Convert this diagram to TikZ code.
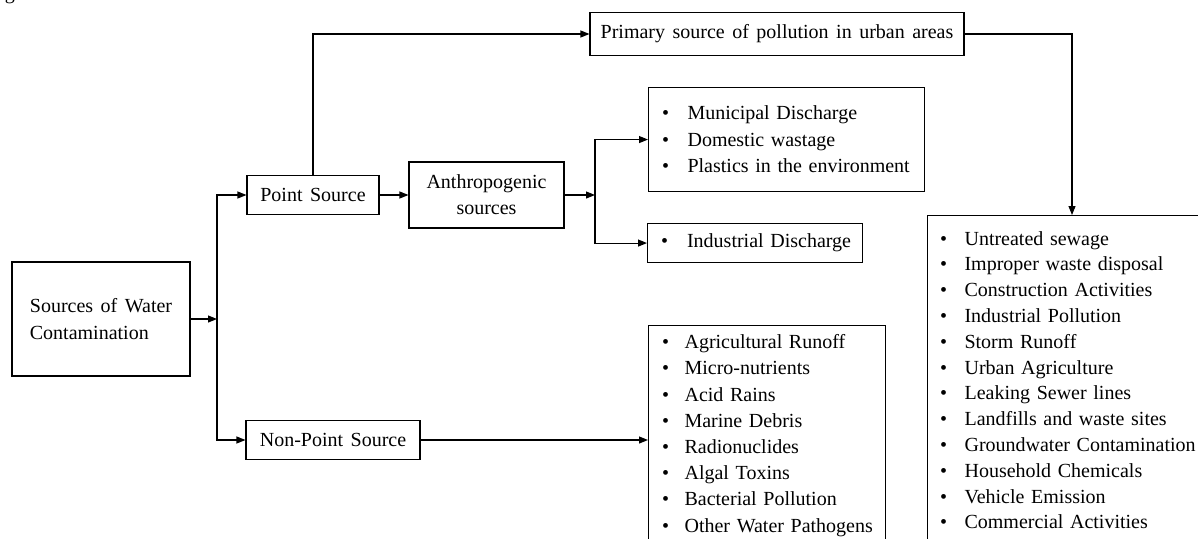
\documentclass[tikz,border=0pt]{standalone}
\usepackage{fontspec}
\setmainfont{Liberation Serif}
\usetikzlibrary{arrows.meta}
\newcommand\ff[1]{\fontsize{20}{#1}\selectfont\spaceskip=7.5pt plus 2pt minus 1pt\relax}
\newcommand\itm[2][16pt]{\mbox{\textbullet\hspace{#1}#2}}
\begin{document}
\begin{tikzpicture}[x=1pt,y=-1pt,
  every node/.style={font=\ff{26}},
  box/.style={draw, line width=1.1pt, inner sep=0pt},
  arr/.style={line width=1.1pt, -{Triangle[length=9pt,width=7pt]}},
  ln/.style={line width=1.1pt}]
\useasboundingbox (0,0) rectangle (1198,538);
% caption fragment cut by the page edge
\begin{scope}
\clip (0,0) rectangle (1198,538);
\node[anchor=base west, inner sep=0pt] (cap) at (-12,-1) {Figure 3.};
\end{scope}
% boxes
\node[box, minimum width=178, minimum height=114, align=left, font=\ff{26.7}] (src) at (101,319) {Sources of Water\\Contamination};
\node[box, minimum width=132, minimum height=39] (ps) at (313,195) {Point Source};
\node[box, minimum width=174, minimum height=39] (nps) at (333,440) {Non-Point Source};
\node[box, minimum width=155, minimum height=66, align=center, font=\ff{26.3}] (anth) at (486.5,195) {Anthropogenic\\sources};
\node[box, minimum width=374, minimum height=43] (prim) at (777,34) {Primary source of pollution in urban areas};
\node[box, anchor=north west, inner xsep=13.5pt, text width=249pt, minimum height=104, align=left, font=\ff{26.5}] (muni) at (648,87)
  {\itm[18.5pt]{Municipal Discharge}\\\itm[18.5pt]{Domestic wastage}\\\itm[18.5pt]{Plastics in the environment}};
\node[box, anchor=north west, inner xsep=13.5pt, text width=188pt, minimum height=39, align=left] (ind) at (647,223)
  {\itm[19pt]{Industrial Discharge}};
\node[box, anchor=north west, inner xsep=13.5pt, text width=210pt, minimum height=220, align=left, font=\ff{26.2}] (agri) at (648,325)
  {\itm[15.5pt]{Agricultural Runoff}\\\itm[15.5pt]{Micro-nutrients}\\\itm[15.5pt]{Acid Rains}\\\itm[15.5pt]{Marine Debris}\\\itm[15.5pt]{Radionuclides}\\\itm[15.5pt]{Algal Toxins}\\\itm[15.5pt]{Bacterial Pollution}\\\itm[15.5pt]{Other Water Pathogens}};
\node[box, anchor=north west, inner xsep=12.5pt, text width=300pt, minimum height=329.3, align=left, font=\ff{25.8}] (urb) at (927,215)
  {\itm[17.5pt]{Untreated sewage}\\\itm[17.5pt]{Improper waste disposal}\\\itm[17.5pt]{Construction Activities}\\\itm[17.5pt]{Industrial Pollution}\\\itm[17.5pt]{Storm Runoff}\\\itm[17.5pt]{Urban Agriculture}\\\itm[17.5pt]{Leaking Sewer lines}\\\itm[17.5pt]{Landfills and waste sites}\\\itm[17.5pt]{Groundwater Contamination}\\\itm[17.5pt]{Household Chemicals}\\\itm[17.5pt]{Vehicle Emission}\\\itm[17.5pt]{Commercial Activities}};
% connectors
\coordinate (j1) at (217,319);
\coordinate (j2) at (595,195);
\draw[arr] (src.east) -- (j1);
\draw[arr] (j1) |- (ps.west);
\draw[arr] (j1) |- (nps.west);
\draw[arr] (ps.north) |- (prim.west);
\draw[arr] (prim.east) -| ([xshift=145pt]urb.north west);
\draw[arr] (ps.east) -- (anth.west);
\draw[arr] (anth.east) -- (j2);
\draw[arr] (j2) |- (muni.west);
\draw[arr] (j2) |- (ind.west);
\draw[arr] (nps.east) -- (nps.east -| agri.west);
\end{tikzpicture}
\end{document}
